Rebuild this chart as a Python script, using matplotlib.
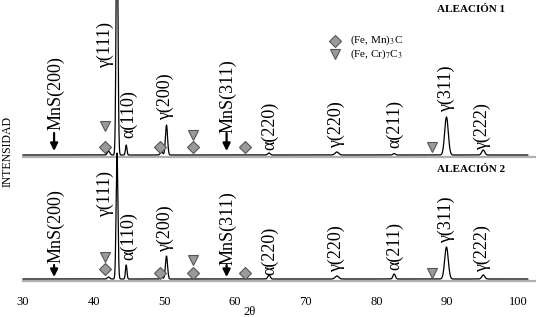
import numpy as np
import matplotlib
matplotlib.use("Agg")
import matplotlib.pyplot as plt

plt.rcParams['font.family'] = ['Liberation Serif', 'DejaVu Serif']
plt.rcParams['mathtext.fontset'] = 'stix'

# peak positions (2theta), heights and widths
peak_pos = [42.1, 43.3, 44.6, 49.6, 50.3, 64.8, 74.4, 82.5, 89.9, 95.1]
peak_fwhm = [0.4, 0.3, 0.25, 0.4, 0.35, 0.4, 0.6, 0.4, 0.6, 0.5]
heights_1 = [4, 260, 10, 3, 30, 2, 3, 1.5, 38, 5]
heights_2 = [2, 126, 14, 2, 23, 4, 3, 5, 32, 4]
offsets = [135, 11]
names = ["ALEACIÓN 1", "ALEACIÓN 2"]

# reflection labels: text, 2theta, height of label above baseline
labels = ["MnS(200)", "γ(111)", "α(110)", "γ(200)", "MnS(311)",
          "α(220)", "γ(220)", "α(211)", "γ(311)", "γ(222)"]
label_x = [34.6, 41.7, 44.9, 50.1, 59.0, 64.9, 74.4, 82.6, 89.9, 95.0]
label_h1 = [25, 87, 17, 35, 22, 5, 7, 7, 43, 5]
label_h2 = [16, 62, 19, 27, 14, 4, 7, 9, 36, 7]

# MnS arrows: 2theta, tail and head height above baseline
arrow_x = [34.4, 58.8]
arrow_tail = [22, 14]
arrow_head = [4, 2]

# carbide markers: 2theta and height above baseline
diam_x = [41.6, 49.4, 54.0, 61.4]
diam_h1 = [8, 8, 8, 8]
diam_h2 = [10, 6, 6, 6]
tri_x = [41.6, 54.0, 87.85]
tri_h1 = [29, 20, 8]
tri_h2 = [22, 19, 6]

grey = '#9a9a9a'
edge = '#555555'

fig = plt.figure(figsize=(5.4, 3.17), dpi=100)
ax = fig.add_axes([0, 27 / 317, 1, 290 / 317])
ax.set_xlim(26.75, 103.13)
ax.set_ylim(0, 290)

x = np.linspace(30, 101.4, 5000)

def pattern(heights):
    y = np.zeros_like(x)
    for p, h, w in zip(peak_pos, heights, peak_fwhm):
        s = w / 2.355
        y += h * np.exp(-0.5 * ((x - p) / s)**2)
    return y

all_h = [heights_1, heights_2]
all_lh = [label_h1, label_h2]
all_dh = [diam_h1, diam_h2]
all_th = [tri_h1, tri_h2]

for i in range(2):
    base = offsets[i]
    ax.plot([30, 102.4], [base - 1.5, base - 1.5], color='#b0b0b0', lw=1.6, zorder=1)
    ax.plot(x, base + pattern(all_h[i]), color='black', lw=0.9, zorder=2)
    for t, lx, lh in zip(labels, label_x, all_lh[i]):
        ax.text(lx, base + lh, t, rotation=90, ha='center', va='bottom',
                fontsize=13)
    for axx in arrow_x:
        ax.annotate('', xy=(axx, base + arrow_head[i]), xytext=(axx, base + arrow_tail[i]),
                    arrowprops=dict(arrowstyle='-|>', lw=1.6, color='black',
                                    mutation_scale=11, shrinkA=0, shrinkB=0))
    ax.plot(diam_x, [base + h for h in all_dh[i]], 'D', ms=6.5, mfc=grey, mec=edge, mew=0.8, zorder=3)
    ax.plot(tri_x, [base + h for h in all_th[i]], 'v', ms=7.5, mfc=grey, mec=edge, mew=0.8, zorder=3)
    ax.text(93.4, 280 - i * 160, names[i], ha='center', va='center',
            fontsize=8, fontweight='bold')

# legend
ax.plot([74.1], [249], 'D', ms=6.5, mfc=grey, mec=edge, mew=0.8)
ax.plot([74.1], [236], 'v', ms=7.5, mfc=grey, mec=edge, mew=0.8)
ax.text(76.2, 249.5, r'(Fe, Mn)$_3$C', fontsize=8, va='center')
ax.text(76.2, 235.5, r'(Fe, Cr)$_7$C$_3$', fontsize=8, va='center')

ax.set_xticks(range(30, 101, 10))
ax.tick_params(axis='x', length=0, labelsize=9, pad=4)
ax.set_yticks([])
for s in ax.spines.values():
    s.set_visible(False)

fig.text(250 / 540, 1 - 312 / 317, '2θ', ha='center', va='center', fontsize=9)
fig.text(8 / 540, 1 - 151 / 317, 'INTENSIDAD', rotation=90, ha='center',
         va='center', fontsize=8.5)

fig.savefig('out.png', dpi=100)
